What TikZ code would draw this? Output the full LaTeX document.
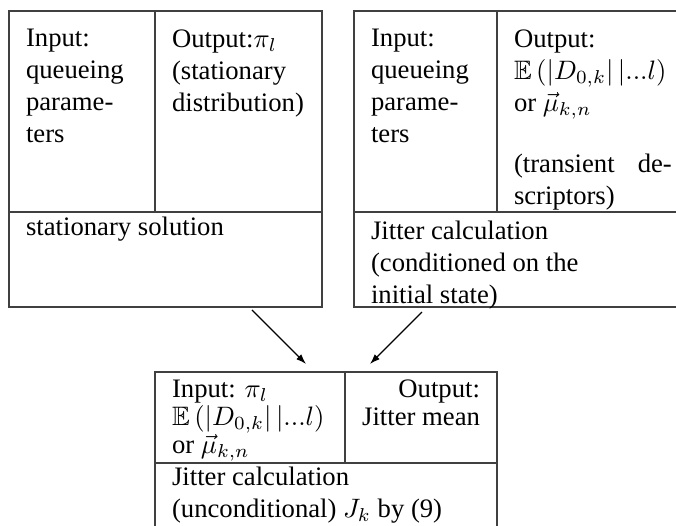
\documentclass[tikz,border=0pt]{standalone}
\usepackage{fontspec}
\setmainfont{Liberation Serif}
\usepackage{amsmath,amssymb}
\usetikzlibrary{arrows.meta, calc}

% fixed-size cell, text at the top (optional gap above it)
\newcommand{\cellbox}[4][0pt]{\parbox[c][#3][t]{#2}{\vspace*{#1}#4}}
\newcommand{\tightlines}{\baselineskip=10.6pt\lineskiplimit=-5pt\relax}
\newcommand{\meanD}{\mbox{$\mathbb{E}\left(|D_{0,k}|\,\middle|...l\right)$}}

\begin{document}
\begin{tikzpicture}[
    x=0.375pt, y=-0.375pt,
    cell/.style={draw=black!75, line width=0.45pt, anchor=north west, inner xsep=6.4pt, inner ysep=3.9pt, outer sep=0pt, font=\fontsize{10}{12}\selectfont},
    lowcell/.style={cell, inner ysep=1.7pt},
    line/.style={draw, -{Latex[length=3.8pt,width=2.6pt]}, line width=0.45pt}
]
\useasboundingbox (0,0) rectangle (676,525);
\clip (0,0) rectangle (676,525);

% stationary solution
\node [cell] (lin) at (9,11) {\cellbox[3pt]{41.95pt}{67.6pt}{Input:\\queueing\\parame-\\ters}};
\node [cell] (lout) at (lin.north east) {\cellbox[3pt]{49.8pt}{67.6pt}{Output:$\pi_l$\\(stationary\\distribution)}};
\node [lowcell] (lsol) at (lin.south west) {\cellbox{104.6pt}{32.2pt}{stationary solution}};

% transient jitter
\node [cell] (rin) at (354,11) {\cellbox[3pt]{40.8pt}{67.6pt}{Input:\\queueing\\parame-\\ters}};
\node [cell] (rout) at (rin.north east) {\cellbox[3pt]{59.2pt}{67.6pt}{Output:\\\meanD\\or $\vec{\mu}_{k,n}$\\[11pt](transient\hfill de-\\scriptors)}};
\node [lowcell] (rjit) at (rin.south west) {\cellbox[1.5pt]{112.8pt}{32.2pt}{Jitter calculation\\(conditioned on the\\initial state)}};

% unconditional jitter
\node [lowcell] (jin) at (155,372) {\cellbox[1.2pt]{58.45pt}{30.7pt}{\tightlines Input: $\pi_l$\\\meanD\\or $\vec{\mu}_{k,n}$}};
\node [lowcell] (jout) at (jin.north east) {\cellbox[1.2pt]{44.2pt}{30.7pt}{\tightlines\raggedleft Output:\\Jitter mean}};
\node [lowcell] (jcalc) at (jin.south west) {\cellbox{115.45pt}{30pt}{Jitter calculation\\(unconditional) $J_k$ by (9)}};

\path [line] ($(lsol.south west)!0.776!(lsol.south east)+(0,3)$) -- ($(jin.north west)!0.795!(jin.north east)+(0,-8)$);
\path [line] ($(rjit.south west)!0.203!(rjit.south east)+(0,5)$) -- ($(jout.north west)!0.164!(jout.north east)+(0,-8)$);
\end{tikzpicture}
\end{document}
